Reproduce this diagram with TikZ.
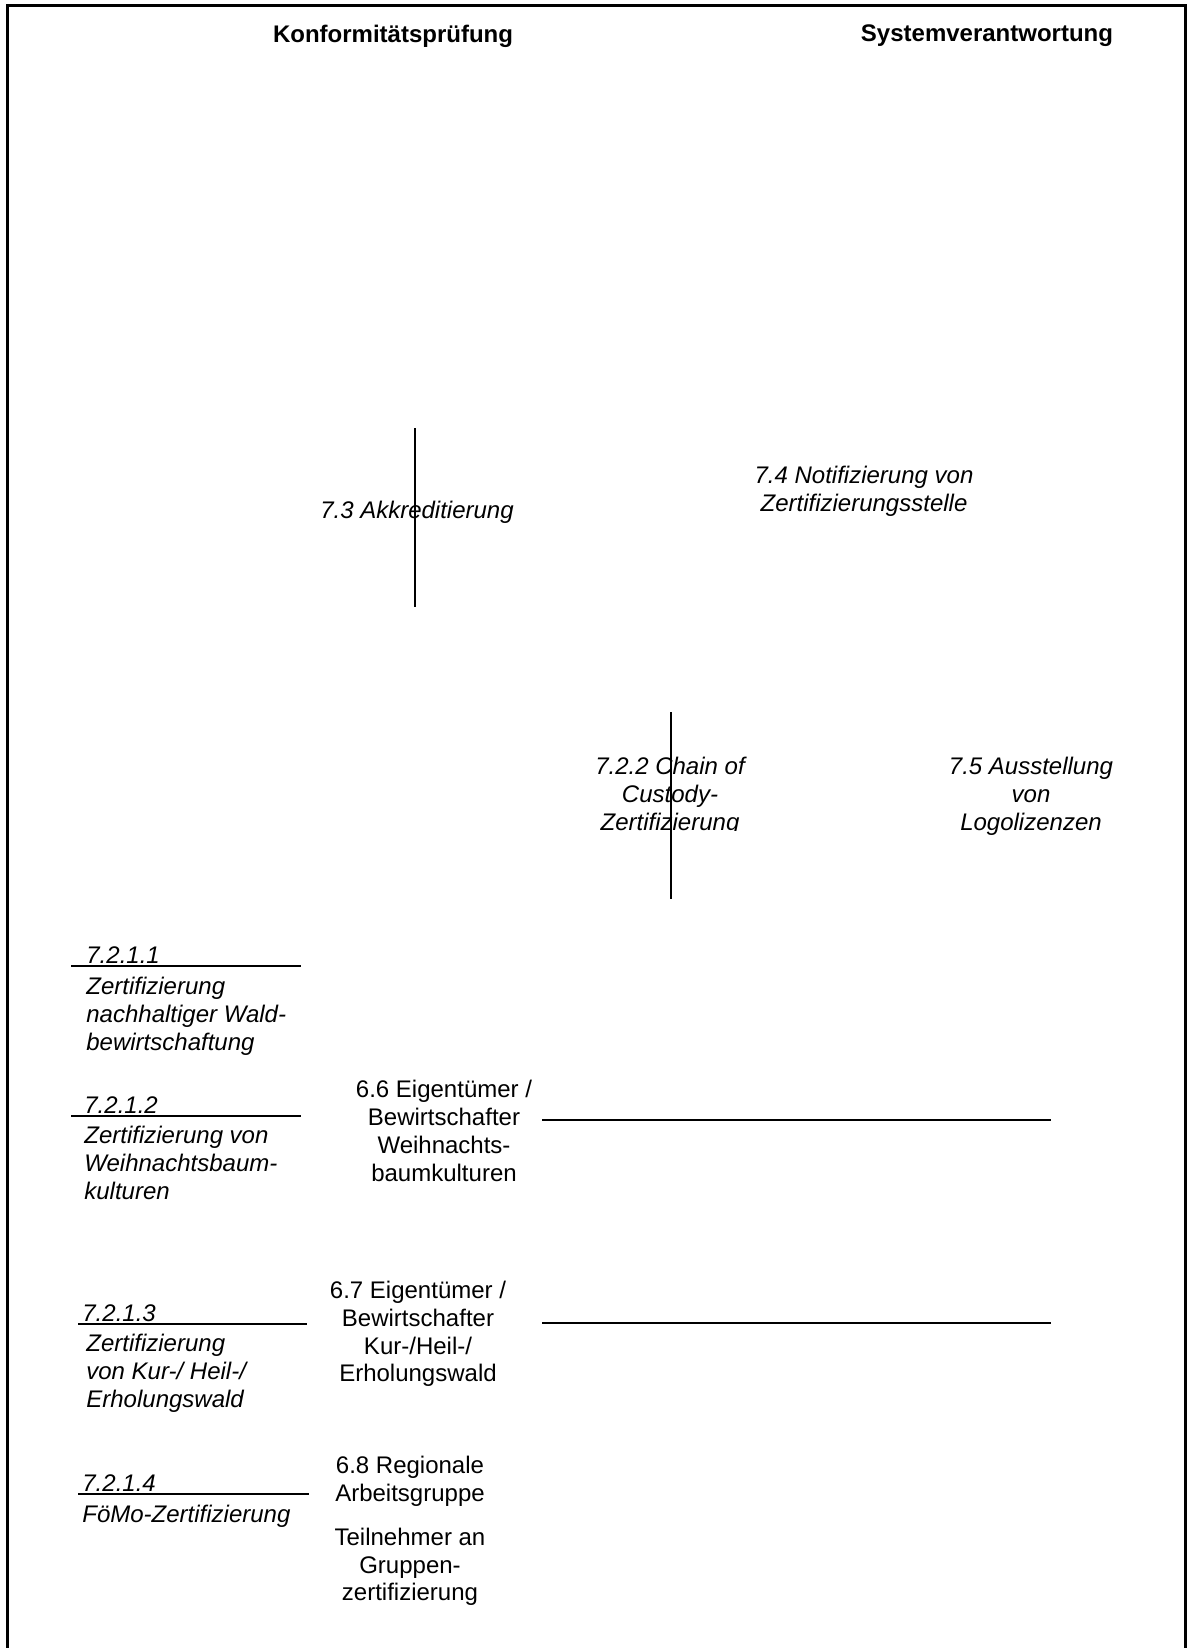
\documentclass[tikz,border=0pt]{standalone}
\usepackage{fontspec}
\setmainfont{Liberation Sans}

\begin{document}
\begin{tikzpicture}[x=0.5pt,y=-0.5pt,
    every node/.style={inner sep=0pt,font=\fontsize{12}{13.9}\selectfont},
    head/.style={font=\fontsize{12}{13.9}\selectfont\bfseries},
    item/.style={font=\fontsize{12}{13.9}\selectfont\itshape},
    party/.style={align=center},
    rule/.style={line width=1pt}]
  \useasboundingbox (0,0) rectangle (1189,1648);
  \draw[line width=1.5pt] (7,1648) -- (7,6) -- (1185,6) -- (1185,1648);

  \node[head](Konf) at (393,36) {Konformitätsprüfung};
  \node[head](Sys) at (987,36) {Systemverantwortung};

  \node[item](Akkr) at (417,512) {7.3 Akkreditierung};
  \node[item,party](Notif) at (864,491) {7.4 Notifizierung von\\Zertifizierungsstelle};
  \begin{scope}
    \clip (560,700) rectangle (790,830);
    \node[item,party](CoC) at (670,796) {7.2.2 Chain of\\Custody-\\Zertifizierung};
  \end{scope}
  \node[item,party](Logo) at (1031,796) {7.5 Ausstellung\\von\\Logolizenzen};

  \node[item,anchor=base west](N1) at (86,963) {7.2.1.1};
  \node[item,align=left,anchor=north west](Z1) at (86,977) {Zertifizierung\\nachhaltiger Wald-\\bewirtschaftung};
  \node[item,anchor=base west](N2) at (84,1113) {7.2.1.2};
  \node[item,align=left,anchor=north west](Z2) at (84,1126) {Zertifizierung von\\Weihnachtsbaum-\\kulturen};
  \node[item,anchor=base west](N3) at (82,1321) {7.2.1.3};
  \node[item,align=left,anchor=north west](Z3) at (86,1334) {Zertifizierung\\von Kur-/ Heil-/\\Erholungswald};
  \node[item,anchor=base west](N4) at (82,1491) {7.2.1.4};
  \node[item,align=left,anchor=north west](Z4) at (82,1505) {FöMo-Zertifizierung};

  \node[party](E66) at (444,1131) {6.6 Eigentümer /\\Bewirtschafter\\Weihnachts-\\baumkulturen};
  \node[party](E67) at (418,1334) {6.7 Eigentümer /\\Bewirtschafter\\Kur-/Heil-/\\Erholungswald};
  \node[party](R68) at (410,1531) {6.8 Regionale\\Arbeitsgruppe\\[8pt]Teilnehmer an\\Gruppen-\\zertifizierung};

  \coordinate (AkkrTop) at (415,428);
  \coordinate (AkkrBot) at (415,607);
  \coordinate (CoCTop) at (671,712);
  \coordinate (CoCBot) at (671,899);
  \coordinate (L1a) at (71,966);
  \coordinate (L1b) at (301,966);
  \coordinate (L2a) at (71,1116);
  \coordinate (L2b) at (301,1116);
  \coordinate (L3a) at (78,1324);
  \coordinate (L3b) at (307,1324);
  \coordinate (L4a) at (78,1494);
  \coordinate (L4b) at (309,1494);
  \coordinate (H66a) at (542,1120);
  \coordinate (H66b) at (1051,1120);
  \coordinate (H67a) at (542,1323);
  \coordinate (H67b) at (1051,1323);

  \draw[rule] (AkkrTop) -- (AkkrBot);
  \draw[rule] (CoCTop) -- (CoCBot);
  \draw[rule] (L1a) -- (L1b);
  \draw[rule] (L2a) -- (L2b);
  \draw[rule] (L3a) -- (L3b);
  \draw[rule] (L4a) -- (L4b);
  \draw[rule] (H66a) -- (H66b);
  \draw[rule] (H67a) -- (H67b);
\end{tikzpicture}
\end{document}
